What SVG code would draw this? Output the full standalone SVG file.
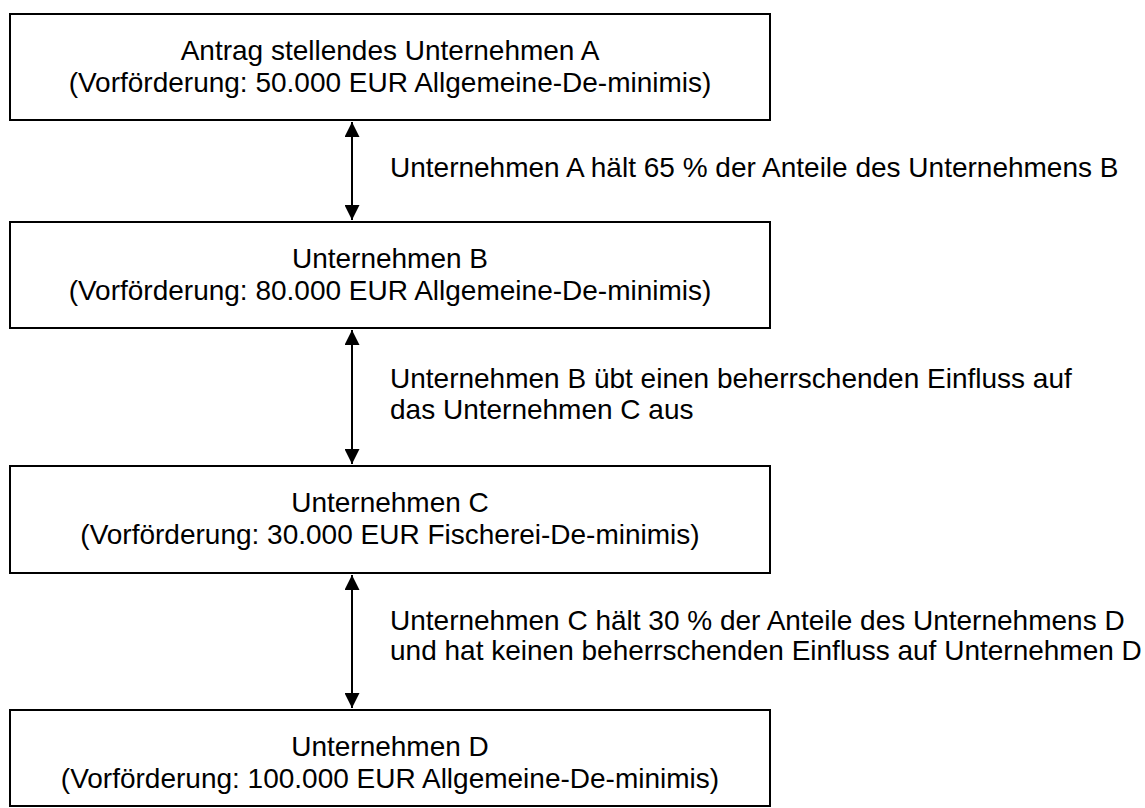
<svg xmlns="http://www.w3.org/2000/svg" width="1145" height="808" viewBox="0 0 1145 808">
<defs>
<style>
.box{fill:#fff;stroke:#000;stroke-width:2}
.t{font-family:"Liberation Sans",Arial,sans-serif;font-size:28px;fill:#000}
.c{text-anchor:middle}
.conn{stroke:#000;stroke-width:2;fill:none}
</style>
<marker id="ah" viewBox="0 0 15 15" refX="15" refY="7.5" markerWidth="15" markerHeight="15" markerUnits="userSpaceOnUse" orient="auto-start-reverse">
<path d="M0,0 L15,7.5 L0,15 z" fill="#000"/>
</marker>
</defs>
<rect width="1145" height="808" fill="#fff"/>
<g id="nodeA">
<rect class="box" x="10" y="14" width="760" height="106"/>
<text class="t c" x="390" y="60">Antrag stellendes Unternehmen A</text>
<text class="t c" x="390" y="92">(Vorförderung: 50.000 EUR Allgemeine-De-minimis)</text>
</g>
<g id="nodeB">
<rect class="box" x="10" y="222" width="760" height="106"/>
<text class="t c" x="390" y="268">Unternehmen B</text>
<text class="t c" x="390" y="300">(Vorförderung: 80.000 EUR Allgemeine-De-minimis)</text>
</g>
<g id="nodeC">
<rect class="box" x="10" y="466" width="760" height="107"/>
<text class="t c" x="390" y="512">Unternehmen C</text>
<text class="t c" x="390" y="544">(Vorförderung: 30.000 EUR Fischerei-De-minimis)</text>
</g>
<g id="nodeD">
<rect class="box" x="10" y="710" width="760" height="96"/>
<text class="t c" x="390" y="756">Unternehmen D</text>
<text class="t c" x="390" y="788">(Vorförderung: 100.000 EUR Allgemeine-De-minimis)</text>
</g>
<g id="connectors">
<line class="conn" x1="352" y1="122" x2="352" y2="220" marker-start="url(#ah)" marker-end="url(#ah)"/>
<line class="conn" x1="352" y1="330" x2="352" y2="464" marker-start="url(#ah)" marker-end="url(#ah)"/>
<line class="conn" x1="352" y1="575" x2="352" y2="708" marker-start="url(#ah)" marker-end="url(#ah)"/>
</g>
<g id="labels">
<text class="t" x="390" y="177">Unternehmen A hält 65 % der Anteile des Unternehmens B</text>
<text class="t" x="390" y="388">Unternehmen B übt einen beherrschenden Einfluss auf</text>
<text class="t" x="390" y="419">das Unternehmen C aus</text>
<text class="t" x="390" y="630">Unternehmen C hält 30 % der Anteile des Unternehmens D</text>
<text class="t" x="390" y="660">und hat keinen beherrschenden Einfluss auf Unternehmen D</text>
</g>
</svg>
